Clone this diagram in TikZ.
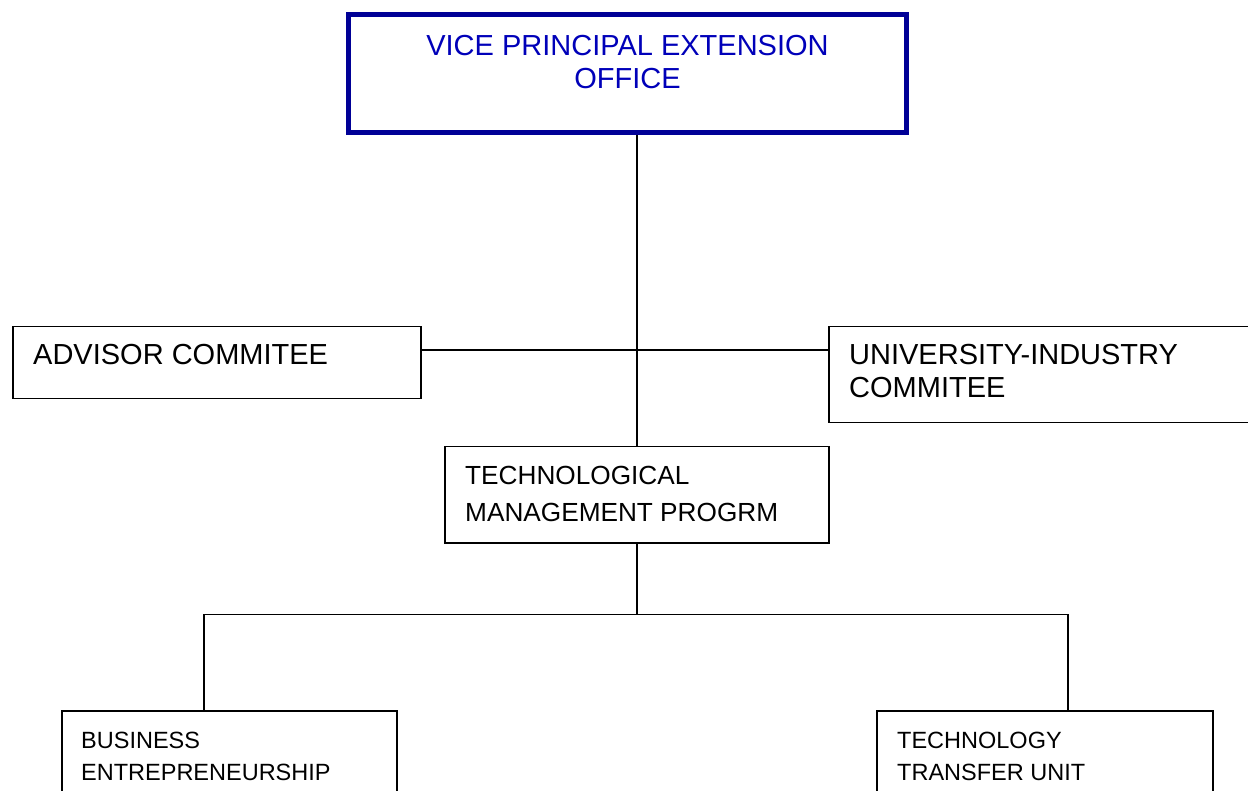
\documentclass[tikz,border=0pt]{standalone}
\usepackage{fontspec}
\setmainfont{Liberation Sans}
\usetikzlibrary{calc}
\definecolor{topborder}{RGB}{0,0,150}
\definecolor{toptext}{RGB}{0,0,185}
\tikzset{
  box/.style={draw=black, line width=1.5pt, fill=white, rectangle, inner sep=0pt, anchor=north west},
  topbox/.style={draw=topborder, line width=5pt, fill=white, rectangle, inner sep=0pt, anchor=north west},
  conn/.style={draw=black, line width=1.5pt},
  bigtxt/.style={inner sep=0pt, anchor=base west, font=\fontsize{29}{33}\selectfont},
  toptxt/.style={inner sep=0pt, anchor=base, text=toptext, font=\fontsize{29}{33}\selectfont},
  midtxt/.style={inner sep=0pt, anchor=base west, font=\fontsize{26.2}{36}\selectfont},
  smalltxt/.style={inner sep=0pt, anchor=base west, font=\fontsize{23.5}{32}\selectfont}
}
\begin{document}
\begin{tikzpicture}[x=1pt,y=-1pt]
\useasboundingbox (0,0) rectangle (1248,791);
\clip (0,0) rectangle (1248,791);
\fill[white] (0,0) rectangle (1248,791);
% boxes
\node[topbox, minimum width=558pt, minimum height=118pt] (top) at (346,12) {};
\node[box, minimum width=408pt, minimum height=72pt] (adv) at (12,326) {};
\node[box, minimum width=440pt, minimum height=96pt] (uni) at (828,326) {};
\node[box, minimum width=384pt, minimum height=96pt] (tmp) at (444,446) {};
\node[box, minimum width=335pt, minimum height=120pt] (bus) at (61,710) {};
\node[box, minimum width=336pt, minimum height=120pt] (ttu) at (876,710) {};
% texts
\node[toptxt] (t1) at (627.5,55.5) {VICE PRINCIPAL EXTENSION};
\node[toptxt] (t2) at (627.5,88.5) {OFFICE};
\node[bigtxt] (a1) at (33,365) {ADVISOR COMMITEE};
\node[bigtxt] (u1) at (849,365) {UNIVERSITY-INDUSTRY};
\node[bigtxt] (u2) at (849,398) {COMMITEE};
\node[midtxt] (m1) at (465,485) {TECHNOLOGICAL};
\node[midtxt] (m2) at (465,521) {MANAGEMENT PROGRM};
\node[smalltxt] (b1) at (81,748) {BUSINESS};
\node[smalltxt] (b2) at (81,780) {ENTREPRENEURSHIP};
\node[smalltxt] (c1) at (897,748) {TECHNOLOGY};
\node[smalltxt] (c2) at (897,780) {TRANSFER UNIT};
% connectors
\coordinate (j) at ($(tmp.south)+(0,71)$);
\draw[conn] (tmp.north |- top.south) -- (tmp.north);
\draw[conn] (adv.east |- 0,350) -- (uni.west |- 0,350);
\draw[conn] ($(bus.north west)+(143,0)$) |- (j) -| ($(ttu.north west)+(192,0)$);
\draw[conn] (tmp.south) -- (j);
\end{tikzpicture}
\end{document}
